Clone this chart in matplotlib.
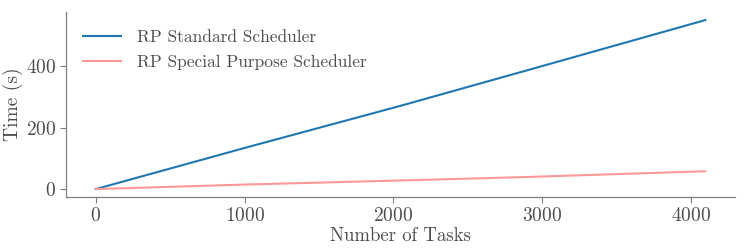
import matplotlib
matplotlib.use("Agg")
import matplotlib.pyplot as plt

# LaTeX-like look without a TeX install
plt.rcParams['font.family'] = 'serif'
plt.rcParams['font.serif'] = ['cmr10', 'DejaVu Serif']
plt.rcParams['mathtext.fontset'] = 'cm'
plt.rcParams['axes.formatter.use_mathtext'] = True
plt.rcParams['axes.unicode_minus'] = False

# data
num_tasks = [0, 1024, 2048, 2880, 4096]
standard_time = [0, 137, 271, 384, 550]
special_time = [0, 15, 28, 39, 58]

labels = ['RP Standard Scheduler', 'RP Special Purpose Scheduler']
colors = ['#1f77b4', '#ff9896']
text_color = '#4d4d4d'
spine_color = '#808080'

fig, ax = plt.subplots(figsize=(7.47, 2.52), dpi=100)
ax.plot(num_tasks, standard_time, color=colors[0], linewidth=1.5, label=labels[0])
ax.plot(num_tasks, special_time, color=colors[1], linewidth=1.5, label=labels[1])

ax.set_xlim(-202, 4296)
ax.set_ylim(-26, 576)
ax.set_xticks([0, 1000, 2000, 3000, 4000])
ax.set_yticks([0, 200, 400])

ax.set_xlabel('Number of Tasks', fontsize=13.5, color=text_color, labelpad=2)
ax.set_ylabel('Time (s)', fontsize=14, color=text_color)
ax.yaxis.set_label_coords(-0.064, 0.5)
ax.tick_params(axis='both', labelsize=14, colors=spine_color, labelcolor=text_color,
               length=4, width=0.8, pad=3)

for side in ['top', 'right']:
    ax.spines[side].set_visible(False)
for side in ['left', 'bottom']:
    ax.spines[side].set_color(spine_color)
    ax.spines[side].set_linewidth(0.9)

leg = ax.legend(loc='upper left', frameon=False, fontsize=12.5, handlelength=2.2,
                borderaxespad=0.6, labelspacing=0.55, handletextpad=0.9)
for t in leg.get_texts():
    t.set_color(text_color)

fig.subplots_adjust(left=0.088, right=0.984, top=0.952, bottom=0.218)
fig.savefig('out.png', dpi=100)
